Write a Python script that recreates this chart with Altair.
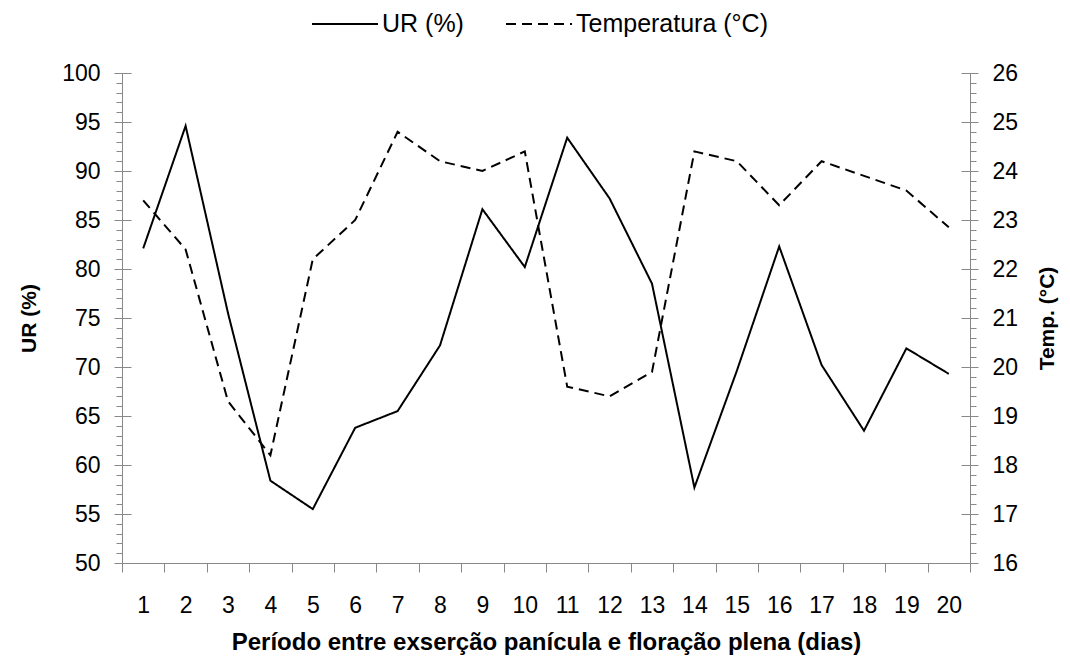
import altair as alt
import pandas as pd

# ---- data ----
dias = list(range(1, 21))
ur = [82.1, 94.6, 75.5, 58.4, 55.5, 63.8, 65.5, 72.2, 86.1, 80.2,
      93.4, 87.2, 78.5, 57.7, 69.6, 82.3, 70.2, 63.5, 71.9, 69.3]
temp = [23.4, 22.4, 19.3, 18.2, 22.2, 23.0, 24.8, 24.2, 24.0, 24.4,
        19.6, 19.4, 19.9, 24.4, 24.2, 23.3, 24.2, 23.9, 23.6, 22.85]
series = ["UR (%)", "Temperatura (°C)"]

ur_major = [50, 55, 60, 65, 70, 75, 80, 85, 90, 95, 100]
ur_minor = list(range(50, 101))
t_major = [16, 17, 18, 19, 20, 21, 22, 23, 24, 25, 26]
t_minor = [round(16 + 0.2 * i, 1) for i in range(51)]
x_bounds = [d - 0.5 for d in dias] + [20.5]

FONT = "Liberation Sans"
GRAY = "#888888"

df = pd.DataFrame({"dia": dias, "ur": ur, "temp": temp})
base = alt.Chart(df)

xscale = alt.Scale(domain=[0.5, 20.5], nice=False, zero=False)
ur_scale = alt.Scale(domain=[50, 100], nice=False, zero=False)
t_scale = alt.Scale(domain=[16, 26], nice=False, zero=False)
dash_scale = alt.Scale(domain=series, range=[[1, 0], [10, 6]])

legend = alt.Legend(orient="none", legendX=189, legendY=-83, direction="horizontal",
                    title=None, symbolType="stroke", symbolSize=4356,
                    symbolStrokeWidth=2, symbolStrokeColor="black",
                    labelFont=FONT, labelFontSize=25, labelColor="black",
                    labelOffset=3, columnPadding=38, padding=0, labelLimit=400)

x_lab = alt.X("dia:Q", scale=xscale, axis=alt.Axis(
    orient="bottom",
    values=dias, format="d", ticks=False, tickSize=0, domain=True,
    domainColor=GRAY, domainWidth=1, labelFont=FONT, labelFontSize=23,
    labelColor="black", labelPadding=31, labelFlush=False, labelOverlap=False,
    grid=False, title="Período entre exserção panícula e floração plena (dias)",
    titleFont=FONT, titleFontWeight="bold", titleFontSize=24, titleColor="black",
    titlePadding=13))
x_none = alt.X("dia:Q", scale=xscale, axis=None)
x_ticks = alt.X("dia:Q", scale=xscale, axis=alt.Axis(
    orient="bottom",
    values=x_bounds, labels=False, domain=False, ticks=True, tickSize=9,
    tickColor=GRAY, grid=False, title=None))


def main_y(field, scale, orient, values, title, pad):
    return alt.Y(field, scale=scale, axis=alt.Axis(
        orient=orient, values=values, format="d", tickSize=8, tickColor=GRAY,
        domainColor=GRAY, domainWidth=1, grid=False, labelFont=FONT,
        labelFontSize=23, labelColor="black", labelPadding=14, labelFlush=False,
        title=title, titleFont=FONT, titleFontWeight="bold", titleFontSize=21,
        titleColor="black", titlePadding=pad, titleAngle=270))


def minor_y(field, scale, orient, values, size=6, offset=0):
    return alt.Y(field, scale=scale, axis=alt.Axis(
        orient=orient, values=values, labels=False, domain=False, ticks=True,
        tickSize=size, tickColor=GRAY, grid=False, title=None, offset=offset))


ur_line = base.transform_calculate(serie='"UR (%)"').mark_line(
    color="black", strokeWidth=2).encode(
    x=x_lab,
    y=main_y("ur:Q", ur_scale, "left", ur_major, "UR (%)", 22),
    strokeDash=alt.StrokeDash("serie:N", scale=dash_scale, legend=legend))

t_line = base.transform_calculate(serie='"Temperatura (°C)"').mark_line(
    color="black", strokeWidth=2).encode(
    x=x_none,
    y=main_y("temp:Q", t_scale, "right", t_major, "Temp. (°C)", 40),
    strokeDash=alt.StrokeDash("serie:N", scale=dash_scale, legend=legend))

inv = dict(opacity=0)
ur_minor_l = base.mark_line(**inv).encode(x=x_none, y=minor_y("ur:Q", ur_scale, "left", ur_minor, 6))
ur_in_l = base.mark_line(**inv).encode(x=x_none, y=minor_y("ur:Q", ur_scale, "left", ur_major, 9, -9))
t_minor_l = base.mark_line(**inv).encode(x=x_none, y=minor_y("temp:Q", t_scale, "right", t_minor, 6))
t_in_l = base.mark_line(**inv).encode(x=x_none, y=minor_y("temp:Q", t_scale, "right", t_major, 9, -9))
x_tick_l = base.mark_line(**inv).encode(x=x_ticks, y=alt.Y("ur:Q", scale=ur_scale, axis=None))

chart = alt.layer(
    ur_minor_l, ur_in_l, t_minor_l, t_in_l, x_tick_l, ur_line, t_line
).resolve_scale(y="independent", x="shared").resolve_axis(
    y="independent", x="independent"
).properties(
    width=848, height=490,
    autosize=alt.AutoSizeParams(type="none"),
    padding={"left": 114, "top": 65, "right": 91, "bottom": 92},
    background="white",
).configure_view(stroke=None)

chart.save("out.html", embed_options={"renderer": "svg", "actions": False})
